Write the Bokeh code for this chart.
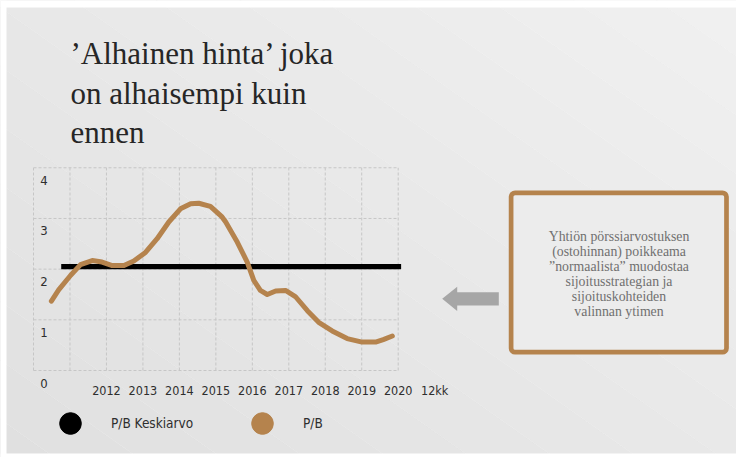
from bokeh.plotting import figure
from bokeh.models import (Range1d, BoxAnnotation, PolyAnnotation,
                          Legend, LegendItem, ColumnDataSource)
from bokeh.core.properties import value
from bokeh.embed import file_html
from bokeh.resources import INLINE

# ---------------- data ----------------
grid_years = [2010, 2011, 2012, 2013, 2014, 2015, 2016, 2017, 2018, 2019, 2020]
grid_values = [0, 1, 2, 3, 4]
y_tick_labels = ["0", "1", "2", "3", "4"]
x_tick_pos = [2012, 2013, 2014, 2015, 2016, 2017, 2018, 2019, 2020, 2021]
x_tick_labels = ["2012", "2013", "2014", "2015", "2016", "2017", "2018", "2019", "2020", "12kk"]

pb_x = [2010.49, 2010.69, 2011.02, 2011.29, 2011.61, 2011.88, 2012.16, 2012.48,
        2012.75, 2013.07, 2013.39, 2013.71, 2014.03, 2014.31, 2014.53, 2014.85,
        2015.17, 2015.27, 2015.59, 2015.86, 2016.04, 2016.22, 2016.41, 2016.64,
        2016.91, 2017.18, 2017.51, 2017.82, 2018.19, 2018.60, 2019.01, 2019.38,
        2019.59, 2019.84]
pb_y = [1.37, 1.59, 1.88, 2.09, 2.17, 2.14, 2.07, 2.07,
        2.16, 2.33, 2.60, 2.93, 3.19, 3.29, 3.30, 3.24,
        3.03, 2.93, 2.53, 2.14, 1.78, 1.58, 1.50, 1.57,
        1.58, 1.46, 1.18, 0.95, 0.78, 0.63, 0.56, 0.56,
        0.61, 0.68]

avg_x = [2010.76, 2020.08]
avg_y = [2.05, 2.05]

title_lines = ["\u2019Alhainen hinta\u2019 joka", "on alhaisempi kuin", "ennen"]
box_lines = ["Yhti\u00f6n p\u00f6rssiarvostuksen", "(ostohinnan) poikkeama",
             "\u201dnormaalista\u201d muodostaa", "sijoitusstrategian ja",
             "sijoituskohteiden", "valinnan ytimen"]
legend_labels = ["P/B Keskiarvo", "P/B"]

# ---------------- layout (page pixels -> data) ----------------
W, H = 736, 457
X0_PX, YEAR_PX = 33.0, 36.47
Y0_PX, UNIT_PX = 370.0, 50.68


def dx(px):
    return 2010 + (px - X0_PX) / YEAR_PX


def dy(py):
    return (Y0_PX - py) / UNIT_PX


BROWN = "#B5834D"
SANS_NAME = "Liberation Sans Narrow, Noto Sans Condensed, DejaVu Sans Condensed, Roboto Condensed, Roboto"
SERIF_NAME = "serif"
SANS = value(SANS_NAME)
SERIF = value(SERIF_NAME)

p = figure(width=W, height=H, output_backend="svg", toolbar_location=None,
           x_range=Range1d(dx(0), dx(W)), y_range=Range1d(dy(H), dy(0)),
           min_border=0, background_fill_color="white", border_fill_color="white",
           outline_line_color=None)
p.axis.visible = False
p.grid.visible = False

# slide background: soft diagonal gradient, drawn as thin bands
GX, GY, G0 = 0.012, 0.017, 232.0   # grey level = G0 + GX*x - GY*(y-7)
for lvl in range(221, 242):
    def xb(L, y):
        return (L - G0 + GY * (y - 7)) / GX
    yt, yb = -5.0, H + 5.0
    xs = [xb(lvl, yt), xb(lvl + 1, yt), xb(lvl + 1, yb), xb(lvl, yb)]
    ys = [yt, yt, yb, yb]
    g = min(max(lvl, 0), 255)
    p.add_layout(PolyAnnotation(xs=[dx(v) for v in xs], ys=[dy(v) for v in ys],
                                fill_color=(g, g, g), fill_alpha=1,
                                line_color=(g, g, g), line_width=1,
                                level="underlay"))
# white page margins around the slide
for (l, r, t, b) in [(0, W, 0, 7), (0, 6, 0, H), (0, W, 453, H)]:
    p.add_layout(BoxAnnotation(left=dx(l), right=dx(r), top=dy(t), bottom=dy(b),
                               fill_color="white", fill_alpha=1, line_color=None,
                               level="underlay"))

# note box (under the glyph text)
box = BoxAnnotation(left=dx(510.6), right=dx(726.0), top=dy(192.3),
                    bottom=dy(351.7), fill_color="#ECECEC", fill_alpha=1,
                    line_color=BROWN, line_width=4.7, line_alpha=1,
                    border_radius=4, level="underlay")
p.add_layout(box)

# dashed grid
p.segment(x0=grid_years, y0=[grid_values[0]] * len(grid_years),
          x1=grid_years, y1=[grid_values[-1]] * len(grid_years),
          line_color="#C6C6C6", line_width=1, line_dash="3 2")
p.segment(x0=[grid_years[0]] * len(grid_values), y0=grid_values,
          x1=[grid_years[-1]] * len(grid_values), y1=grid_values,
          line_color="#C6C6C6", line_width=1, line_dash="3 2")

# tick labels
p.text(x=[grid_years[0]] * len(grid_values), y=grid_values, text=y_tick_labels,
       x_offset=10.5, y_offset=12.5, text_align="center", text_baseline="alphabetic",
       text_font=SANS, text_font_size="13px", text_color="#2E2E2E")
p.text(x=x_tick_pos, y=[0] * len(x_tick_pos), text=x_tick_labels,
       y_offset=20, text_align="center", text_baseline="alphabetic",
       text_font=SANS, text_font_size="12.5px", text_color="#2E2E2E")

# series
avg_r = p.line(avg_x, avg_y, line_color="black", line_width=5.3)
pb_r = p.line(pb_x, pb_y, line_color=BROWN, line_width=5,
              line_cap="round", line_join="round")

# legend (circle markers)
nan = float("nan")
leg_avg = p.scatter("x", "y", source=ColumnDataSource(data=dict(x=[nan], y=[nan])),
                    marker="circle", size=22, fill_color="black", line_color="black")
leg_pb = p.scatter("x", "y", source=ColumnDataSource(data=dict(x=[nan], y=[nan])),
                   marker="circle", size=22, fill_color=BROWN, line_color=BROWN)
legend = Legend(items=[LegendItem(label=legend_labels[0], renderers=[leg_avg]),
                       LegendItem(label=legend_labels[1], renderers=[leg_pb])],
                orientation="horizontal", location=(43, 7),
                glyph_width=54, glyph_height=54, label_standoff=14,
                label_width=100, spacing=24, padding=0, margin=0,
                border_line_color=None, background_fill_alpha=0,
                label_text_font=SANS_NAME, label_text_font_size="13.5px",
                label_text_color="#2E2E2E")
p.add_layout(legend, "center")

# title
p.text(x=[dx(70)] * 3, y=[dy(53.3 + 39.2 * i) for i in range(3)], text=title_lines,
       text_font=SERIF, text_font_size="31px", text_color="#262626",
       text_baseline="alphabetic", text_align="left")

# arrow
ax = [441.7, 456.7, 456.7, 498.3, 498.3, 456.7, 456.7]
ay = [298.3, 286.3, 291.7, 291.7, 305.0, 305.0, 310.5]
p.add_layout(PolyAnnotation(xs=[dx(v) for v in ax], ys=[dy(v) for v in ay],
                            fill_color="#A6A6A6", fill_alpha=1, line_color=None))

# note text
p.text(x=[dx(618.5)] * len(box_lines),
       y=[dy(235.7 + 15 * i) for i in range(len(box_lines))], text=box_lines,
       text_font=SERIF, text_font_size="13.8px", text_color="#707070",
       text_align="center", text_baseline="alphabetic")

open("out.html", "w").write(file_html(p, INLINE))
